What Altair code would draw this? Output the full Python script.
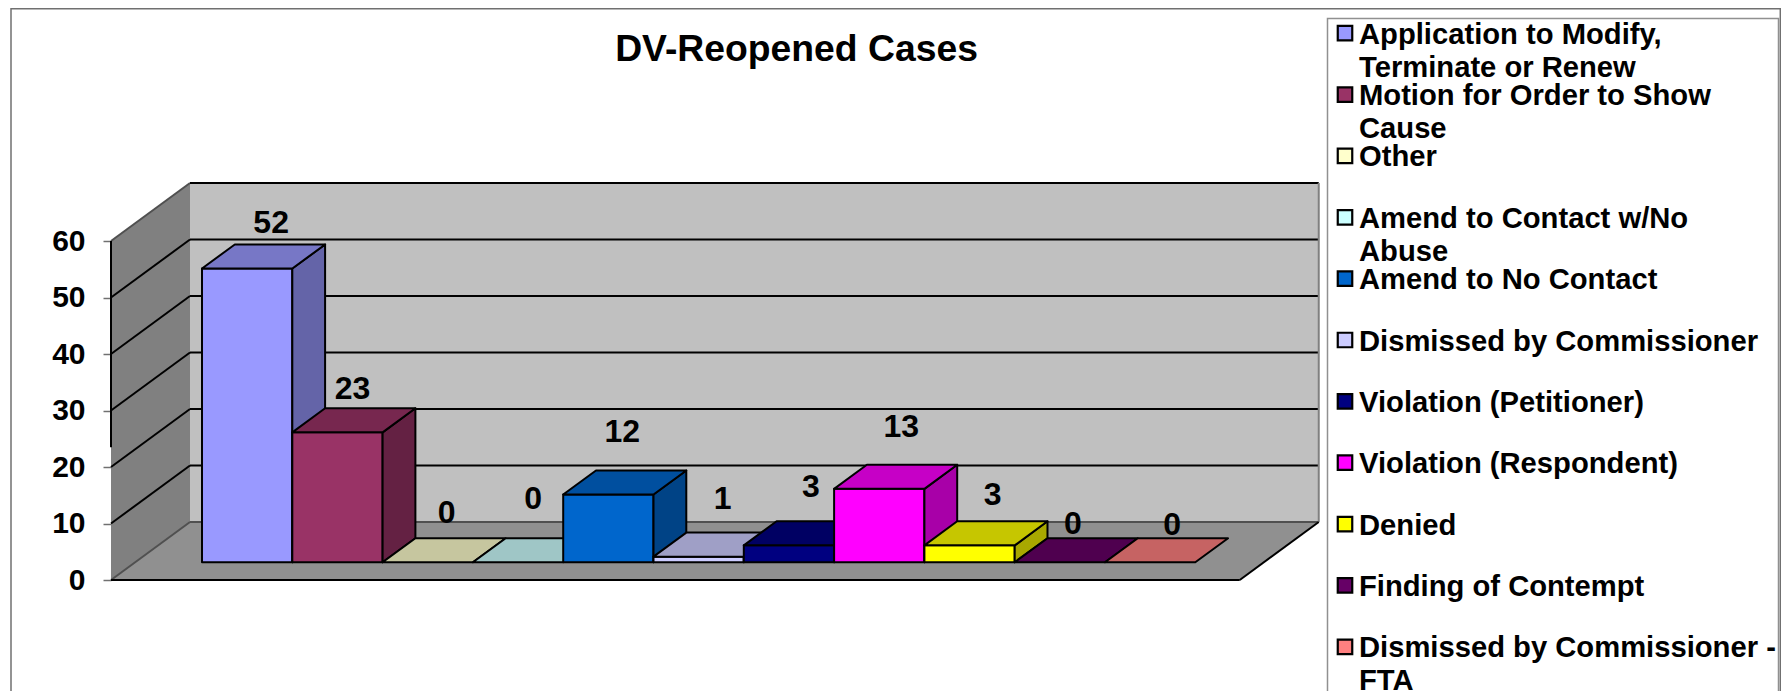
import altair as alt
import pandas as pd

# ---- data ----
CATEGORIES = [
    "Application to Modify,\nTerminate or Renew",
    "Motion for Order to Show\nCause",
    "Other",
    "Amend to Contact w/No\nAbuse",
    "Amend to No Contact",
    "Dismissed by Commissioner",
    "Violation (Petitioner)",
    "Violation (Respondent)",
    "Denied",
    "Finding of Contempt",
    "Dismissed by Commissioner -\nFTA",
]
VALUES = [52, 23, 0, 0, 12, 1, 3, 13, 3, 0, 0]
COLORS = ["#9999FF", "#993366", "#FFFFCC", "#CCFFFF", "#0066CC", "#CCCCFF",
          "#000080", "#FF00FF", "#FFFF00", "#660066", "#FF8080"]
TICKS = [0, 10, 20, 30, 40, 50, 60]

# hand-placed data label nudges in the original chart (pixels from the bar's top-front centre)
LABEL_DX = [24, 15, 19, 15, 14, 24, 22, 22, 23, 13, 22]
LABEL_DY = [-46, -43, -49, -63, -63, -58, -58, -62, -50, -38, -37]

# ---- layout: page pixels <-> data units ----
W, H = 1773, 683
UX, UY = 90.3, 5.65           # pixels per category, pixels per value
X0_PAGE, Y0_PAGE = 111, 580   # page position of x=0, value=0 on the front edge
GAP = 0.741                   # floor margin either side of the bars, in categories
DEPTH_X, DEPTH_V = 79 / UX, 58 / UY
Z0, Z1 = 0.305, 0.72          # depth range occupied by the bars
FLOOR_W = 12.5


def page_x(px):
    return (px - X0_PAGE) / UX


def page_v(py):
    return (Y0_PAGE - py) / UY


XS = alt.Scale(domain=[page_x(8), page_x(8 + W)], range=[0, W], nice=False, zero=False)
YS = alt.Scale(domain=[page_v(8 + H), page_v(8)], range=[H, 0], nice=False, zero=False)
FONT = "Liberation Sans"

AX = alt.Axis(values=TICKS, title=None, domain=False, grid=False, offset=-103,
              tickSize=8, tickColor="#707070", tickWidth=1.5, labelPadding=18,
              labelFont=FONT, labelFontSize=30, labelFontWeight="bold", labelColor="#000000")


def X(f="x"):
    return alt.X(f"{f}:Q", scale=XS, axis=None)


def Y(f="y"):
    return alt.Y(f"{f}:Q", scale=YS, axis=AX)


def shade(hex_color, k):
    r, g, b = (int(hex_color[i:i + 2], 16) for i in (1, 3, 5))
    return "#%02x%02x%02x" % (int(r * k), int(g * k), int(b * k))


def area_layer(rows, **mark):
    df = pd.DataFrame(rows, columns=["poly", "fill", "x", "y", "y2"])
    return alt.Chart(df).mark_area(**mark).encode(
        x=X(), y=alt.Y("y:Q", scale=YS, axis=AX, stack=None), y2="y2:Q",
        color=alt.Color("fill:N", scale=None), detail="poly:N",
    )


# ---- walls and floor ----
shell = []
for x, lo, hi in [(0, 0, 60), (DEPTH_X, DEPTH_V, 60 + DEPTH_V)]:
    shell.append(("a_left", "#808080", x, lo, hi))
for x, lo, hi in [(DEPTH_X, DEPTH_V, 60 + DEPTH_V), (FLOOR_W + DEPTH_X, DEPTH_V, 60 + DEPTH_V)]:
    shell.append(("b_back", "#C0C0C0", x, lo, hi))
shell += [
    ("c_floor", "#909090", 0, 0, 0),
    ("c_floor", "#909090", DEPTH_X, 0, DEPTH_V),
    ("c_floor", "#909090", FLOOR_W, 0, DEPTH_V),
    ("c_floor", "#909090", FLOOR_W + DEPTH_X, DEPTH_V, DEPTH_V),
]
shell_layer = area_layer(shell)

# ---- grid lines ----
grid_rows = []
for t in TICKS:
    c = "#000000" if 0 < t < 60 else "#505050"
    grid_rows += [(f"l{t}", c, 0, t), (f"l{t}", c, DEPTH_X, t + DEPTH_V)]
    if t > 0:
        grid_rows += [(f"r{t}", "#000000", DEPTH_X, t + DEPTH_V),
                      (f"r{t}", "#000000", FLOOR_W + DEPTH_X, t + DEPTH_V)]
grid_rows += [("r0", "#505050", DEPTH_X, DEPTH_V), ("r0", "#505050", FLOOR_W + DEPTH_X, DEPTH_V)]
grid_rows += [("re", "#808080", FLOOR_W + DEPTH_X, DEPTH_V), ("re", "#808080", FLOOR_W + DEPTH_X, 60 + DEPTH_V)]
grid_rows += [("fe", "#000000", 0, 0), ("fe", "#000000", FLOOR_W, 0)]
grid_rows += [("fd", "#000000", FLOOR_W, 0), ("fd", "#000000", FLOOR_W + DEPTH_X, DEPTH_V)]
grid_rows += [("ax", "#000000", 0, 60), ("ax", "#000000", 0, 23.5)]
grid_df = pd.DataFrame(grid_rows, columns=["line", "c", "x", "y"])
grid_layer = alt.Chart(grid_df).mark_line(strokeWidth=2, clip=False).encode(
    x=X(), y=Y(), color=alt.Color("c:N", scale=None), detail="line:N"
)

# ---- 3-D bars, painted left to right ----
bars = []
for i, (v, col) in enumerate(zip(VALUES, COLORS)):
    a, b = GAP + i, GAP + i + 1
    xz0, xz1 = Z0 * DEPTH_X, Z1 * DEPTH_X
    vz0, vz1 = Z0 * DEPTH_V, Z1 * DEPTH_V
    if v > 0:
        bars += [(f"{i:02d}a", col, a + xz0, vz0, v + vz0), (f"{i:02d}a", col, b + xz0, vz0, v + vz0)]
        side = shade(col, 0.66)
        bars += [(f"{i:02d}b", side, b + xz0, vz0, v + vz0), (f"{i:02d}b", side, b + xz1, vz1, v + vz1)]
    top = shade(col, 0.78)
    t0, t1 = v + vz0, v + vz1
    bars += [
        (f"{i:02d}c", top, a + xz0, t0, t0),
        (f"{i:02d}c", top, a + xz1, t0, t1),
        (f"{i:02d}c", top, b + xz0, t0, t1),
        (f"{i:02d}c", top, b + xz1, t1, t1),
    ]
bar_layer = area_layer(bars, stroke="#000000", strokeWidth=2, strokeJoin="round")

# ---- data labels ----
lab = pd.DataFrame({
    "value": VALUES,
    "x": [GAP + i + 0.5 + Z0 * DEPTH_X + dx / UX for i, dx in enumerate(LABEL_DX)],
    "y": [v + Z0 * DEPTH_V - dy / UY for v, dy in zip(VALUES, LABEL_DY)],
})
label_layer = alt.Chart(lab).mark_text(
    font=FONT, fontSize=32, fontWeight="bold", color="#000000", baseline="middle", align="center"
).encode(x=X(), y=Y(), text="value:Q")

# ---- frame and legend box ----
boxes = pd.DataFrame({
    "x": [page_x(11), page_x(1327.5)],
    "x2": [page_x(1780.3), page_x(1778.5)],
    "y": [page_v(8.8), page_v(18.5)],
    "y2": [page_v(720), page_v(720)],
    "c": ["#707070", "#909090"],
})
box_layer = alt.Chart(boxes).mark_rect(fillOpacity=0, strokeWidth=1.5).encode(
    x=X(), x2="x2:Q", y=Y(), y2="y2:Q", stroke=alt.Stroke("c:N", scale=None)
)

# ---- legend, one row per category ----
ROW0, ROW_STEP = 33.2, 61.36
leg = pd.DataFrame({
    "label": CATEGORIES,
    "fill": COLORS,
    "sx": [page_x(1345)] * len(CATEGORIES),
    "tx": [page_x(1359)] * len(CATEGORIES),
    "sy": [page_v(ROW0 + ROW_STEP * i) for i in range(len(CATEGORIES))],
    "ty": [page_v(ROW0 + ROW_STEP * i + 10.5) for i in range(len(CATEGORIES))],
})
leg_sw = alt.Chart(leg).mark_point(shape="square", filled=True, size=210, stroke="#000000",
                                   strokeWidth=2.2, opacity=1).encode(
    x=X("sx"), y=Y("sy"), fill=alt.Fill("fill:N", scale=None)
)
leg_tx = alt.Chart(leg).mark_text(
    font=FONT, fontSize=29.2, fontWeight="bold", color="#000000", align="left",
    baseline="alphabetic", lineBreak="\n", lineHeight=33,
).encode(x=X("tx"), y=Y("ty"), text="label:N")

chart = alt.layer(
    box_layer, shell_layer, grid_layer, bar_layer, label_layer, leg_sw, leg_tx
).properties(
    width=W, height=H, padding=0,
    autosize=alt.AutoSizeParams(type="none"),
    background="#FFFFFF",
    title=alt.TitleParams(
        "DV-Reopened Cases", anchor="middle", frame="group", dx=-98, offset=0, dy=90,
        baseline="alphabetic", font=FONT, fontSize=37.3, fontWeight="bold", color="#000000",
    ),
).configure_view(stroke=None)

chart.save("out.html", embed_options={"renderer": "svg", "actions": False})
